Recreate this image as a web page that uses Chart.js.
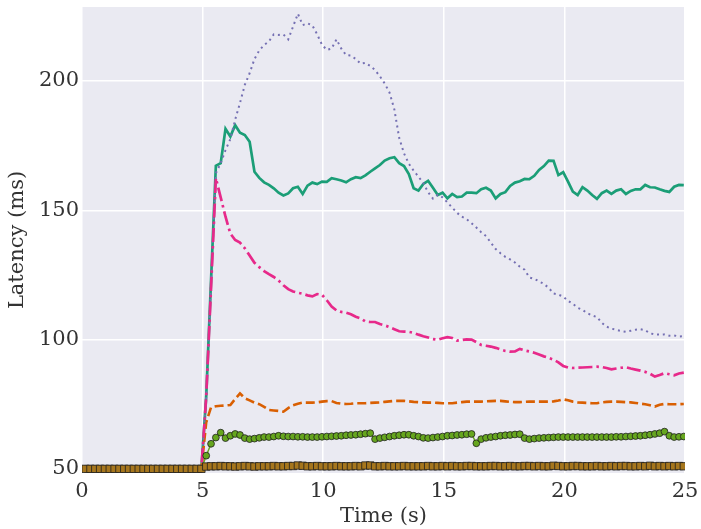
<!DOCTYPE html>
<html>
<head>
<meta charset="utf-8">
<script src="https://cdn.jsdelivr.net/npm/chart.js@4/dist/chart.umd.min.js"></script>
<style>
  html, body { margin: 0; padding: 0; background: #ffffff; }
  #wrap { width: 701px; height: 529px; }
</style>
</head>
<body>
<div id="wrap"><canvas id="chart" width="701" height="529"></canvas></div>
<script>
// Sample times (s)
const TIMES = [
  0.15, 0.35, 0.55, 0.75, 0.95, 1.15, 1.35, 1.55, 1.75, 1.95,
  2.15, 2.35, 2.55, 2.75, 2.95, 3.15, 3.35, 3.55, 3.75, 3.95,
  4.15, 4.35, 4.55, 4.75, 4.95,
  5.15, 5.35, 5.55, 5.75, 5.95, 6.15, 6.35, 6.55, 6.75, 6.95,
  7.15, 7.35, 7.55, 7.75, 7.95, 8.15, 8.35, 8.55, 8.75, 8.95,
  9.15, 9.35, 9.55, 9.75, 9.95, 10.15, 10.35, 10.55, 10.75, 10.95,
  11.15, 11.35, 11.55, 11.75, 11.95, 12.15, 12.35, 12.55, 12.75, 12.95,
  13.15, 13.35, 13.55, 13.75, 13.95, 14.15, 14.35, 14.55, 14.75, 14.95,
  15.15, 15.35, 15.55, 15.75, 15.95, 16.15, 16.35, 16.55, 16.75, 16.95,
  17.15, 17.35, 17.55, 17.75, 17.95, 18.15, 18.35, 18.55, 18.75, 18.95,
  19.15, 19.35, 19.55, 19.75, 19.95, 20.15, 20.35, 20.55, 20.75, 20.95,
  21.15, 21.35, 21.55, 21.75, 21.95, 22.15, 22.35, 22.55, 22.75, 22.95,
  23.15, 23.35, 23.55, 23.75, 23.95, 24.15, 24.35, 24.55, 24.75, 24.95
];

// Idle latency before the load starts (t < 5 s)
const IDLE = [
  50, 50, 50, 50, 50, 50, 50, 50, 50, 50,
  50, 50, 50, 50, 50, 50, 50, 50, 50, 50,
  50, 50, 50, 50, 50
];

// Latency (ms) once the load starts, one row per second (5 s .. 24 s)
const SOLID_GREEN = [
  78, 123, 167.2, 168.2, 181.5,
  178.5, 182.9, 180, 179.1, 176.5,
  164.9, 162.5, 160.8, 159.8, 158.5,
  156.8, 155.7, 156.5, 158.5, 159.1,
  156.3, 159.5, 160.7, 160.1, 161.1,
  161, 162.4, 162, 161.5, 160.8,
  162, 162.8, 162.4, 163.5, 164.9,
  166.2, 167.5, 169.2, 170.1, 170.5,
  168.2, 167.1, 164, 158.5, 157.6,
  160.2, 161.4, 158.7, 155.9, 156.8,
  154.6, 156.3, 155.1, 155.3, 156.8,
  156.8, 156.6, 158.1, 158.7, 157.6,
  154.6, 156.3, 157, 159.4, 160.7,
  161.2, 162.1, 162, 163.3, 165.6,
  167.1, 169.2, 169.1, 163.6, 164.7,
  161.1, 157.2, 155.9, 158.9, 157.6,
  155.9, 154.4, 156.6, 157.6, 156.3,
  157.6, 158.1, 156.3, 157.5, 158.1,
  158.1, 159.8, 158.9, 158.8, 158.1,
  157.5, 157.1, 159.1, 159.8, 159.7
];

const DASHED_ORANGE = [
  68, 73.8, 74.2, 74.4, 74.5,
  74.7, 77, 79.2, 77.3, 76.5,
  75.6, 75, 74, 72.8, 72.6,
  72.4, 72.1, 73.5, 74.6, 75.2,
  75.6, 75.6, 75.6, 75.7, 76,
  76.2, 76.2, 75.5, 75.2, 75.1,
  75.2, 75.4, 75.4, 75.4, 75.5,
  75.6, 75.7, 75.9, 76.1, 76.3,
  76.3, 76.3, 76.1, 75.9, 75.8,
  75.7, 75.6, 75.6, 75.5, 75.4,
  75.4, 75.4, 75.6, 75.8, 76,
  76, 76, 76, 76.1, 76.2,
  76.3, 76.3, 76.1, 75.9, 75.8,
  75.8, 75.9, 76, 76, 76,
  76, 76, 76.1, 76.4, 76.9,
  76.5, 76, 75.7, 75.6, 75.5,
  75.4, 75.4, 75.7, 75.9, 76,
  76, 75.9, 75.8, 75.7, 75.5,
  75.2, 75, 74.6, 74.1, 74.8,
  75.1, 75, 75, 75, 75.1
];

const DOTTED_PURPLE = [
  78, 122, 164.3, 168.2, 173.3,
  177.5, 185, 191.5, 198.5, 203,
  208.5, 211.8, 213.9, 215.3, 218,
  217.8, 218, 216.1, 221, 226,
  221.6, 222.3, 221.5, 218, 214,
  212, 212.5, 216.1, 212.5, 210,
  209.8, 208.5, 206.7, 207, 205.8,
  204.2, 201.8, 199, 195.5, 189,
  178, 172, 168, 165.3, 163,
  160.5, 157, 154.5, 156, 155,
  153, 151, 149, 147.5, 146.5,
  145, 143.3, 141.5, 140, 137.5,
  135, 133.4, 132, 131, 129.8,
  128.2, 127, 124, 123.5, 122.5,
  121.5, 120, 117.8, 117.4, 116.6,
  115, 113.8, 112.3, 111.5, 110.2,
  109.3, 108.7, 106.5, 105, 104.2,
  103.8, 103.3, 103, 103.4, 103.8,
  104, 103.6, 102.4, 102, 101.9,
  102, 101.5, 101.6, 101.2, 101.3
];

const DASHDOT_PINK = [
  78, 120, 162.4, 155, 147.5,
  141, 138.5, 137.5, 135.3, 132.5,
  129.7, 128, 126.5, 125.3, 124.2,
  122.8, 121, 119.5, 118.6, 118.1,
  117.7, 117.1, 116.7, 117.6, 117.3,
  115.2, 112.8, 111.3, 110.7, 110.4,
  109.8, 108.8, 108.2, 107, 106.8,
  106.8, 106, 105.5, 104.8, 104,
  103.2, 103.1, 103, 102.6, 101.9,
  101.3, 100.8, 100.2, 99.9, 100.5,
  100.9, 100.6, 99.6, 99.8, 100.1,
  100, 99, 97.9, 97.6, 97.3,
  96.8, 96.2, 95.6, 95.3, 95.4,
  96.4, 95.8, 95.4, 94.9, 94.2,
  93.5, 92.9, 92.2, 91.2, 89.8,
  89.2, 89, 89.1, 89.2, 89.3,
  89.4, 89.5, 89.4, 89, 88.5,
  88.8, 89.1, 89.3, 88.8, 88.4,
  88, 87.5, 86.8, 85.7, 86.3,
  87, 86.6, 86.2, 86.9, 87.2
];

const CIRCLE_GREEN = [
  55.1, 59.7, 62.1, 64, 61.9,
  62.8, 63.5, 63.1, 61.9, 61.5,
  61.7, 62, 62.3, 62.3, 62.5,
  62.8, 62.6, 62.5, 62.5, 62.4,
  62.4, 62.3, 62.3, 62.3, 62.4,
  62.5, 62.6, 62.7, 62.8, 63,
  63.1, 63.2, 63.4, 63.6, 63.8,
  61.5, 61.9, 62.2, 62.5, 62.8,
  63, 63.2, 63.2, 62.8, 62.5,
  62, 61.9, 62.1, 62.3, 62.5,
  62.8, 62.9, 63.1, 63.2, 63.4,
  63.5, 59.9, 61.5, 62, 62.3,
  62.5, 62.8, 63, 63.1, 63.3,
  63.4, 61.9, 61.5, 61.7, 61.9,
  62, 62.1, 62.2, 62.3, 62.3,
  62.3, 62.3, 62.3, 62.3, 62.3,
  62.3, 62.3, 62.3, 62.3, 62.3,
  62.4, 62.4, 62.5, 62.6, 62.7,
  62.8, 63, 63.2, 63.5, 63.8,
  64.4, 62.8, 62.3, 62.4, 62.5
];

const SQUARE_BROWN = [
  50.9, 51.0, 51.0, 51.1, 51.0,
  51.0, 50.9, 51.0, 51.1, 51.0,
  50.9, 51.0, 51.0, 51.0, 51.1,
  51.0, 51.0, 51.1, 51.1, 51.3,
  51.2, 51.0, 51.0, 51.1, 51.0,
  51.0, 51.0, 51.1, 51.0, 51.0,
  51.0, 51.1, 51.0, 51.3, 51.3,
  51.0, 51.0, 51.1, 51.0, 51.0,
  51.0, 51.1, 51.0, 51.0, 51.0,
  51.0, 51.1, 51.0, 51.0, 51.1,
  51.0, 51.1, 51.0, 51.0, 51.1,
  51.1, 51.0, 51.0, 51.0, 51.1,
  51.1, 51.0, 51.0, 51.1, 51.0,
  51.0, 51.1, 51.1, 51.0, 51.1,
  51.0, 51.0, 51.2, 51.1, 51.0,
  51.0, 51.1, 51.1, 51.0, 51.0,
  51.0, 51.1, 51.0, 51.0, 51.1,
  51.0, 51.1, 51.1, 51.0, 51.0,
  51.1, 51.0, 51.2, 51.0, 51.1,
  51.0, 51.1, 51.0, 51.1, 51.0
];

const X_TICKS = [0, 5, 10, 15, 20, 25];
const Y_TICKS = [50, 100, 150, 200];

const FONT = "'DejaVu Serif', 'Liberation Serif', serif";
const TEXT = '#333333';

function points(values) {
  const full = IDLE.concat(values);
  return TIMES.map((t, i) => ({ x: t, y: full[i] }));
}

function lineSet(values, color, width, dash) {
  return {
    data: points(values),
    borderColor: color,
    borderWidth: width,
    borderDash: dash,
    pointRadius: 0,
    tension: 0,
    fill: false,
    clip: 0
  };
}

const datasets = [
  lineSet(SOLID_GREEN, '#1b9e77', 2.7, []),
  lineSet(DASHED_ORANGE, '#d95f02', 2.6, [9, 4]),
  lineSet(DOTTED_PURPLE, '#7570b3', 2, [2, 3.8]),
  lineSet(DASHDOT_PINK, '#e7298a', 2.7, [14, 4, 2.5, 4]),
  Object.assign(lineSet(CIRCLE_GREEN, '#66a61e', 1.5, []), {
    pointStyle: 'circle',
    pointRadius: 3.4,
    pointBackgroundColor: '#66a61e',
    pointBorderColor: '#1e1e1e',
    pointBorderWidth: 0.8
  }),
  Object.assign(lineSet(SQUARE_BROWN, '#a6761d', 1.5, []), {
    pointStyle: 'rect',
    pointRadius: 5.2,
    pointBackgroundColor: '#a6761d',
    pointBorderColor: '#1e1e1e',
    pointBorderWidth: 0.8
  })
];
// later series sit on top
datasets.forEach((d, i) => { d.order = datasets.length - i; });

const plotBackground = {
  id: 'plotBackground',
  beforeDraw(chart) {
    const { ctx, chartArea: a } = chart;
    ctx.save();
    ctx.fillStyle = '#eaeaf2';
    ctx.fillRect(a.left, a.top, a.right - a.left, a.bottom - a.top);
    ctx.restore();
  }
};

new Chart(document.getElementById('chart'), {
  type: 'line',
  data: { datasets },
  plugins: [plotBackground],
  options: {
    responsive: false,
    animation: false,
    devicePixelRatio: 1,
    layout: { padding: { top: 7, right: 16, left: 0, bottom: 0 } },
    plugins: { legend: { display: false }, tooltip: { enabled: false } },
    elements: { line: { borderCapStyle: 'butt' } },
    scales: {
      x: {
        type: 'linear',
        min: 0,
        max: 25,
        afterBuildTicks(scale) { scale.ticks = X_TICKS.map(v => ({ value: v })); },
        afterFit(scale) {
          scale.height = 56;
          scale.paddingLeft = 0;
          scale.paddingRight = 0;
        },
        grid: { color: '#ffffff', lineWidth: 1.5, drawTicks: false, tickLength: 0 },
        border: { display: false },
        ticks: { font: { family: FONT, size: 21 }, color: TEXT, padding: 6, maxRotation: 0 },
        title: { display: true, text: 'Time (s)', font: { family: FONT, size: 21 }, color: TEXT, padding: { top: 0, bottom: 0 } }
      },
      y: {
        type: 'linear',
        min: 48.4,
        max: 228.6,
        afterBuildTicks(scale) { scale.ticks = Y_TICKS.map(v => ({ value: v })); },
        afterFit(scale) {
          scale.width = 82;
          scale.paddingTop = 0;
          scale.paddingBottom = 0;
        },
        grid: { color: '#ffffff', lineWidth: 1.5, drawTicks: false, tickLength: 0 },
        border: { display: false },
        ticks: { font: { family: FONT, size: 21 }, color: TEXT, padding: 3 },
        title: { display: true, text: 'Latency (ms)', font: { family: FONT, size: 21 }, color: TEXT, padding: { top: 5, bottom: 0 } }
      }
    }
  }
});
</script>
</body>
</html>
